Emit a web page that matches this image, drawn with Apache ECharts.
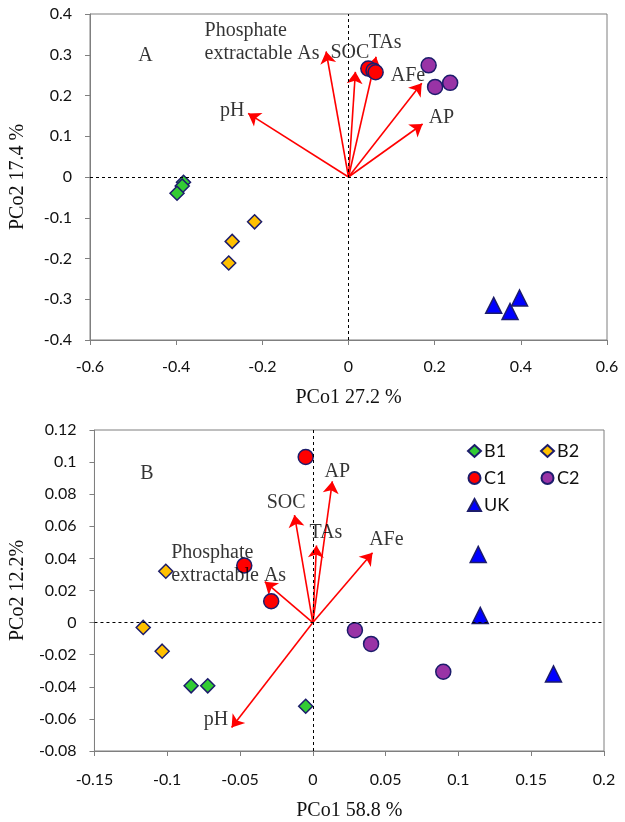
<!DOCTYPE html>
<html>
<head>
<meta charset="utf-8">
<script src="https://cdn.jsdelivr.net/npm/echarts@6/dist/echarts.min.js"></script>
<style>
html,body{margin:0;padding:0;background:#fff;}
#chart{width:625px;height:822px;}
</style>
</head>
<body>
<div id="chart"></div>
<script>
// ---------- Panel A data ----------
var A_B1 = [[-0.383, -0.013], [-0.386, -0.022], [-0.398, -0.040]];
var A_B2 = [[-0.218, -0.110], [-0.270, -0.158], [-0.278, -0.211]];
var A_C1 = [[0.046, 0.266], [0.058, 0.261], [0.063, 0.257]];
var A_C2 = [[0.186, 0.274], [0.201, 0.221], [0.236, 0.231]];
var A_UK = [[0.337, -0.315], [0.375, -0.330], [0.397, -0.297]];
var A_vecNames = ['Phosphate extractable As', 'SOC', 'TAs', 'AFe', 'AP', 'pH'];
var A_vecTips = [[-0.052, 0.308], [0.016, 0.258], [0.064, 0.295], [0.170, 0.230], [0.172, 0.130], [-0.233, 0.156]];
var A_labelText = ['Phosphate\nextractable As', 'SOC', 'TAs', 'AFe', 'AP', 'pH', 'A'];
var A_labelPos = [[-0.334, 0.331], [-0.042, 0.306], [0.047, 0.330], [0.098, 0.248], [0.186, 0.146], [-0.298, 0.163], [-0.488, 0.297]];

// ---------- Panel B data ----------
var B_B1 = [[-0.0836, -0.0394], [-0.0722, -0.0394], [-0.0049, -0.0521]];
var B_B2 = [[-0.1010, 0.0320], [-0.1165, -0.0030], [-0.1035, -0.0178]];
var B_C1 = [[-0.0049, 0.1032], [-0.0471, 0.0356], [-0.0286, 0.0133]];
var B_C2 = [[0.0289, -0.0047], [0.0400, -0.0133], [0.0896, -0.0306]];
var B_UK = [[0.1136, 0.0425], [0.1150, 0.0045], [0.1653, -0.0320]];
var B_vecNames = ['AP', 'SOC', 'TAs', 'AFe', 'Phosphate extractable As', 'pH'];
var B_vecTips = [[0.0134, 0.0880], [-0.0126, 0.0670], [0.0025, 0.0480], [0.0410, 0.0435], [-0.0330, 0.0255], [-0.0558, -0.0654]];
var B_labelText = ['AP', 'SOC', 'TAs', 'AFe', 'Phosphate\nextractable As', 'pH', 'B'];
var B_labelPos = [[0.0080, 0.0940], [-0.0317, 0.0745], [-0.0023, 0.0560], [0.0387, 0.0515], [-0.0973, 0.0366], [-0.0749, -0.0603], [-0.1185, 0.0930]];

// axis ticks
var A_x = {min: -0.6, max: 0.6, interval: 0.2};
var A_y = {min: -0.4, max: 0.4, interval: 0.1};
var B_x = {min: -0.15, max: 0.2, interval: 0.05};
var B_y = {min: -0.08, max: 0.12, interval: 0.02};

var groups = [
  {name: 'B1', symbol: 'diamond', color: '#33cc33', size: 14},
  {name: 'B2', symbol: 'diamond', color: '#ffc000', size: 14},
  {name: 'C1', symbol: 'circle', color: '#ff0000', size: 15},
  {name: 'C2', symbol: 'circle', color: '#9933a6', size: 15},
  {name: 'UK', symbol: 'triangle', color: '#0000ff', size: 16}
];
var A_groups = [A_B1, A_B2, A_C1, A_C2, A_UK];
var B_groups = [B_B1, B_B2, B_C1, B_C2, B_UK];

var sans = 'Lato';
var serif = 'Liberation Serif';
var gray = '#7f7f7f';

function axisDef(idx, r, name, gap, margin) {
  return {
    gridIndex: idx, type: 'value', min: r.min, max: r.max, interval: r.interval,
    name: name, nameLocation: 'middle', nameGap: gap,
    nameTextStyle: {fontFamily: serif, fontSize: 20, color: '#111'},
    axisLine: {show: true, onZero: false, lineStyle: {color: gray, width: 1}},
    axisTick: {show: true, inside: false, length: 5, lineStyle: {color: gray}},
    axisLabel: {fontFamily: sans, fontSize: 16, color: '#111', margin: margin},
    splitLine: {show: false}
  };
}

var series = [];
function addPanel(idx, groupData, vecTips, labelText, labelPos) {
  groupData.forEach(function (d, i) {
    var g = groups[i];
    series.push({
      name: g.name, type: 'scatter', xAxisIndex: idx, yAxisIndex: idx,
      symbol: g.symbol, symbolSize: g.size, data: d, z: 4,
      itemStyle: {color: g.color, borderColor: '#1c1c6b', borderWidth: 1.5, opacity: 1}
    });
  });
  // zero dashed lines
  series.push({
    type: 'line', xAxisIndex: idx, yAxisIndex: idx, data: [], silent: true,
    markLine: {
      silent: true, symbol: ['none', 'none'], label: {show: false},
      lineStyle: {color: '#000', type: [3, 3], width: 1},
      data: [{xAxis: 0}, {yAxis: 0}]
    }
  });
  // vectors
  series.push({
    type: 'lines', coordinateSystem: 'cartesian2d', xAxisIndex: idx, yAxisIndex: idx,
    symbol: ['none', 'arrow'], symbolSize: 12, silent: true, z: 3,
    lineStyle: {color: '#ff0000', width: 1.6, opacity: 1},
    data: vecTips.map(function (t) { return {coords: [[0, 0], t]}; })
  });
  // text labels
  series.push({
    type: 'scatter', xAxisIndex: idx, yAxisIndex: idx, symbolSize: 1, silent: true, z: 5,
    itemStyle: {color: 'rgba(0,0,0,0)'},
    label: {
      show: true, position: 'inside', align: 'left', verticalAlign: 'middle',
      fontFamily: serif, fontSize: 20, color: '#000', lineHeight: 23,
      formatter: function (p) { return p.data.name; }
    },
    data: labelPos.map(function (p, k) { return {name: labelText[k], value: p}; })
  });
}
addPanel(0, A_groups, A_vecTips, A_labelText, A_labelPos);
addPanel(1, B_groups, B_vecTips, B_labelText, B_labelPos);

var legendCommon = {
  orient: 'vertical', itemWidth: 13, itemHeight: 12, itemGap: 9,
  textStyle: {fontFamily: sans, fontSize: 18, color: '#111', padding: [0, 0, 0, -2]},
  selectedMode: false
};

var option = {
  animation: false,
  backgroundColor: '#fff',
  grid: [
    {left: 88, right: 18, top: 14, height: 326, show: true, borderColor: gray, borderWidth: 1},
    {left: 92, right: 21, top: 430, height: 322, show: true, borderColor: gray, borderWidth: 1}
  ],
  xAxis: [axisDef(0, A_x, 'PCo1 27.2 %', 48, 19), axisDef(1, B_x, 'PCo1 58.8 %', 50, 21)],
  yAxis: [axisDef(0, A_y, 'PCo2 17.4 %', 62, 18), axisDef(1, B_y, 'PCo2 12.2%', 66, 18)],
  legend: [
    Object.assign({left: 462, top: 437, data: ['B1', 'C1', 'UK']}, legendCommon),
    Object.assign({left: 535, top: 437, data: ['B2', 'C2']}, legendCommon)
  ],
  series: series
};

var chart = echarts.init(document.getElementById('chart'), null, {renderer: 'canvas'});
chart.setOption(option);
</script>
</body>
</html>
